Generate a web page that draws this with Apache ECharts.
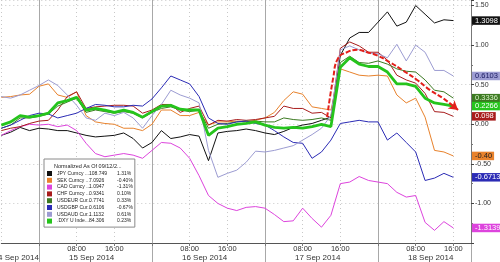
<!DOCTYPE html>
<html><head><meta charset="utf-8">
<script src="https://cdn.jsdelivr.net/npm/echarts@6/dist/echarts.min.js"></script>
<style>html,body{margin:0;padding:0;background:#fff}#c{width:500px;height:262px}</style>
</head><body><div id="c"></div>
<script>
// hours since 14 Sep 2014 00:00
const hours = [16,18,20,22,24,26,28,30,32,34,36,38,40,42,44,46,48,50,52,54,56,58,60,62,64,66,68,70,72,74,76,78,80,82,84,86,88,90,92,94,96,98,100,102,104,106,108,110,112];

const jpy = [-0.14,-0.10,-0.04,-0.08,-0.05,-0.06,-0.08,-0.08,-0.11,-0.14,-0.16,-0.15,-0.14,-0.11,-0.18,-0.30,-0.23,-0.08,-0.18,-0.16,-0.13,-0.15,-0.46,-0.11,-0.09,-0.08,-0.06,-0.08,-0.11,-0.13,-0.09,-0.04,-0.01,0.01,0.05,0.09,0.87,1.09,1.16,1.16,1.29,1.42,1.24,1.29,1.50,1.39,1.28,1.32,1.31];
const sek = [0.34,0.35,0.37,0.38,0.48,0.51,0.37,0.34,0.41,0.11,0.03,0.01,0.00,-0.05,-0.05,-0.08,0.00,0.18,0.18,0.11,0.11,0.15,-0.01,0.03,0.03,0.04,0.03,0.05,0.08,0.15,0.30,0.41,0.38,0.22,0.20,0.18,0.70,0.66,0.62,0.61,0.62,0.61,0.37,0.27,0.33,0.09,-0.33,-0.35,-0.40];
const cad = [-0.14,-0.08,-0.03,0.00,-0.01,0.00,-0.03,-0.01,-0.08,-0.24,-0.37,-0.41,-0.39,-0.37,-0.39,-0.43,-0.33,-0.23,-0.24,-0.30,-0.43,-0.65,-0.90,-1.00,-1.06,-1.09,-1.05,-1.04,-1.06,-1.14,-1.23,-1.22,-1.06,-1.19,-1.30,-1.15,-0.75,-0.73,-0.66,-0.71,-0.73,-0.75,-0.86,-0.92,-0.90,-1.24,-1.34,-1.23,-1.31];
const chf = [-0.08,-0.05,-0.03,0.01,0.04,0.05,0.18,0.35,0.41,0.20,0.22,0.23,0.24,0.24,0.23,0.14,0.18,0.25,0.25,0.15,0.20,0.23,-0.01,0.05,0.04,0.06,0.05,0.06,0.08,0.10,0.23,0.20,0.20,0.14,0.15,0.08,0.96,1.04,0.99,0.91,0.91,0.81,0.62,0.56,0.52,0.39,0.16,0.15,0.10];
const eur = [-0.05,-0.01,0.08,0.08,0.10,0.13,0.23,0.28,0.33,0.15,0.18,0.16,0.14,0.16,0.14,0.08,0.15,0.20,0.22,0.18,0.16,0.18,-0.05,0.00,0.01,0.03,0.04,0.04,0.03,0.03,0.08,0.06,0.05,0.06,0.08,0.05,0.78,0.86,0.78,0.77,0.80,0.76,0.70,0.67,0.66,0.56,0.43,0.41,0.33];
const gbp = [-0.05,-0.01,0.05,0.11,0.14,0.13,0.08,0.11,0.14,0.20,0.25,0.24,0.22,0.22,0.24,0.23,0.32,0.46,0.61,0.56,0.51,0.35,0.08,0.01,0.00,0.03,0.04,0.01,-0.01,-0.08,-0.16,-0.23,-0.24,-0.43,-0.35,-0.20,0.01,0.03,0.05,0.03,0.03,-0.20,-0.11,-0.23,-0.35,-0.71,-0.68,-0.62,-0.67];
const aud = [0.35,0.33,0.37,0.43,0.49,0.56,0.49,0.37,0.24,0.08,0.05,0.14,0.11,0.15,0.08,-0.05,0.11,0.25,0.43,0.37,0.33,0.27,-0.33,-0.67,-0.62,-0.58,-0.48,-0.34,-0.35,-0.33,-0.30,-0.27,-0.20,-0.13,-0.05,0.11,0.94,0.99,0.94,0.90,0.89,0.84,1.01,0.80,1.00,0.91,0.68,0.68,0.61];
const dxy = [-0.01,0.03,0.11,0.09,0.11,0.14,0.27,0.30,0.34,0.18,0.20,0.18,0.15,0.18,0.15,0.09,0.16,0.23,0.24,0.19,0.18,0.18,-0.14,-0.05,-0.03,0.00,0.01,0.03,-0.01,-0.04,-0.05,-0.04,-0.05,-0.03,0.00,-0.03,0.72,0.84,0.76,0.73,0.73,0.66,0.51,0.51,0.48,0.33,0.27,0.25,0.23];

const seriesNames = ['JPY Curncy ...','SEK Curncy ...','CAD Curncy ...','CHF Curncy ...','USDEUR Cur...','USDGBP Cur...','USDAUD Cur...','.DXY U Inde...'];
const legendValues = ['108.749','7.0926','1.0947','0.9341','0.7741','0.6106','1.1132','84.306'];
const legendPct = ['1.31%','-0.40%','-1.31%','0.10%','0.33%','-0.67%','0.61%','0.23%'];
const lastTags = ['1.3098','-0.40','-1.3139','0.098','0.3336','-0.6713','0.6103','0.2266'];
const legendTitle = 'Normalized As Of 09/12/2...';

// trend annotation (hand-drawn red arrow)
const arrowHours = [85.2,86.5,87.5,89.4,91.6,93.7,95.8,98.6,101.3,104.3,107.1,109.8,113.0];
const arrowVals  = [0.09,0.59,0.83,0.91,0.94,0.91,0.87,0.78,0.68,0.56,0.43,0.33,0.18];

// date / time labels
const dateLabels = {24:'14 Sep 2014',40:'15 Sep 2014',64:'16 Sep 2014',88:'17 Sep 2014',112:'18 Sep 2014'};

const allValues = [jpy,sek,cad,chf,eur,gbp,aud,dxy];
const colors = ['#111111','#e8822c','#dd44dd','#a81c1c','#3c7a22','#2b2bb5','#9c9cd2','#25c41c'];
const tagText = ['#fff','#222','#fff','#fff','#d8f0c8','#fff','#1a1a60','#fff'];
const FONT = 'Liberation Sans';

const chart = echarts.init(document.getElementById('c'), null, {renderer:'canvas'});

const lineSeries = seriesNames.map((name,i)=>({
  name, type:'line', xAxisIndex:0, yAxisIndex:0,
  data: hours.map((h,k)=>[h, allValues[i][k]]),
  symbol:'none', showSymbol:false, animation:false,
  lineStyle:{color:colors[i], width: i===7 ? 2.8 : 1},
  itemStyle:{color:colors[i]},
  z: 2,
  markLine:{
    silent:true, symbol:'none', animation:false, z:25,
    lineStyle:{color:'rgba(0,0,0,0)', width:0.01},
    label:{show:true, position:'end', distance:1, formatter:()=>lastTags[i],
      backgroundColor:colors[i], color:tagText[i], padding:[0,2,0,3], lineHeight:8.5, fontSize:7.5, fontFamily:FONT},
    emphasis:{disabled:true},
    data:[{yAxis: Number(lastTags[i])}]
  }
}));

const arrowData = arrowHours.map((h,k)=>{
  const item = {value:[h, arrowVals[k]]};
  if (k === arrowHours.length-1) { item.symbol='arrow'; item.symbolSize=[8,9]; item.symbolRotate=-129; }
  return item;
});

const option = {
  backgroundColor:'#fff',
  animation:false,
  textStyle:{fontFamily:FONT},
  title:{text:legendTitle, left:54, top:163.5, padding:0, z:30,
    textStyle:{fontSize:5.5, fontWeight:'normal', color:'#222', fontFamily:FONT}},
  legend:{
    data:seriesNames, orient:'vertical', left:44, top:159,
    padding:[11.5,2,3,3], backgroundColor:'#fff', borderColor:'#8a8a8a', borderWidth:1,
    itemWidth:5, itemHeight:5, itemGap:0.8, icon:'rect', selectedMode:false, z:20,
    textStyle:{fontSize:5, lineHeight:6, color:'#222', fontFamily:FONT,
      rich:{n:{width:32, fontSize:5, lineHeight:6}, v:{width:28, fontSize:5, lineHeight:6}, p:{fontSize:5, lineHeight:6}}},
    formatter:name=>{const i=seriesNames.indexOf(name); return '{n|'+name+'}{v|'+legendValues[i]+'}{p|'+legendPct[i]+'}';}
  },
  grid:[
    {left:1.3, right:29, top:0, bottom:19, outerBoundsMode:'none', containLabel:false},
    {left:1.3-16*(469.7/99.75), right:29, top:0, bottom:0, outerBoundsMode:'none', containLabel:false}
  ],
  xAxis:[
    {gridIndex:0, type:'value', min:16, max:115.75, interval:8, position:'bottom',
      axisLine:{onZero:false, lineStyle:{color:'#555', width:1}},
      axisTick:{show:true, length:3, lineStyle:{color:'#777'}},
      splitLine:{show:true, lineStyle:{color:'#c8c8c8', type:[1,3]}},
      axisLabel:{showMinLabel:false, showMaxLabel:false, hideOverlap:false, margin:1.5, fontSize:7.5, lineHeight:8, color:'#333', fontFamily:FONT,
        formatter:v=>{const r=Math.round(v)%24; return r===8?'08:00':(r===16?'16:00':'');}}},
    {gridIndex:1, type:'value', min:0, max:115.75, interval:24,
      axisLine:{show:false}, axisTick:{show:false}, axisLabel:{show:false},
      splitLine:{show:true, lineStyle:{color:'#a8a8a8', width:1, type:'solid'}}},
    {gridIndex:0, type:'value', min:16, max:115.75, interval:8, position:'bottom', offset:0,
      axisLine:{show:false}, axisTick:{show:false}, splitLine:{show:false},
      axisLabel:{showMinLabel:false, showMaxLabel:false, hideOverlap:false, margin:10.5, fontSize:8, lineHeight:8, color:'#333', align:'right', fontFamily:FONT,
        formatter:v=>dateLabels[Math.round(v)]||''}}
  ],
  yAxis:[
    {gridIndex:0, type:'value', position:'right', min:-1.5, max:1.57, interval:0.5,
      axisLine:{show:true, onZero:false, lineStyle:{color:'#777'}},
      axisTick:{show:true, length:3, lineStyle:{color:'#444'}},
      minorTick:{show:true, splitNumber:2, length:2, lineStyle:{color:'#777'}},
      splitLine:{show:true, lineStyle:{color:'#c8c8c8', type:[1,3]}},
      axisLabel:{margin:4, fontSize:7, color:'#333', fontFamily:FONT,
        formatter:v=>(v < -1.49 || v > 1.51) ? '' : v.toFixed(2)}},
    {gridIndex:1, type:'value', show:false, min:0, max:1}
  ],
  series: lineSeries.concat([{
    name:'trend', type:'line', xAxisIndex:0, yAxisIndex:0, data:arrowData, smooth:0.5,
    symbol:'none', showSymbol:true, z:15, animation:false,
    lineStyle:{color:'#e3201b', width:2, type:[5,2]},
    itemStyle:{color:'#e3201b'}
  }])
};
chart.setOption(option);
</script></body></html>
